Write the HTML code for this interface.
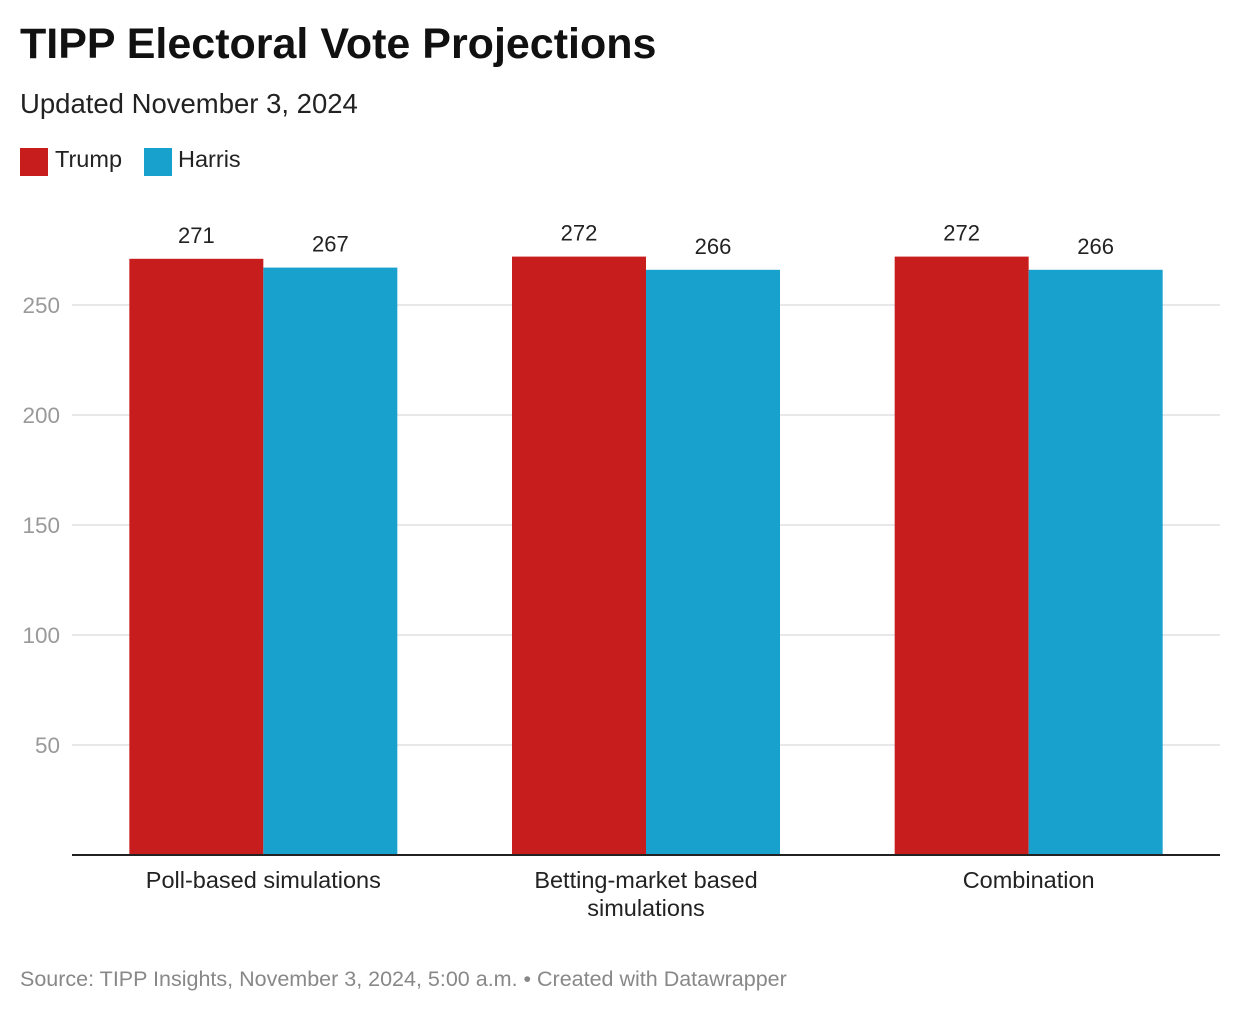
<!DOCTYPE html>
<html><head><meta charset="utf-8">
<style>
html,body{margin:0;padding:0;background:#fff;}
body{width:1240px;height:1016px;overflow:hidden;font-family:"Liberation Sans",Arial,sans-serif;position:relative;}
.t{position:absolute;white-space:nowrap;}
</style></head>
<body>
<div class="t" style="left:20px;top:20px;font-size:43px;font-weight:bold;color:#111;">TIPP Electoral Vote Projections</div>
<div class="t" style="left:20px;top:88px;font-size:27.5px;color:#222;">Updated November 3, 2024</div>
<div style="position:absolute;left:20px;top:146px;height:30px;">
  <div style="position:absolute;left:0;top:2px;width:28px;height:28px;background:#c71e1d;"></div>
  <div class="t" style="left:35px;top:0;font-size:23.5px;color:#222;">Trump</div>
  <div style="position:absolute;left:124px;top:2px;width:28px;height:28px;background:#18a1cd;"></div>
  <div class="t" style="left:158px;top:0;font-size:23.5px;color:#222;">Harris</div>
</div>
<svg id="chart" width="1240" height="1016" style="position:absolute;left:0;top:0;" font-family="Liberation Sans, Arial, sans-serif"></svg>
<div class="t" style="left:20px;top:967px;font-size:21.5px;color:#888;">Source: TIPP Insights, November 3, 2024, 5:00 a.m. • Created with Datawrapper</div>
<script>
const categories = [["Poll-based simulations"],["Betting-market based","simulations"],["Combination"]];
const trump = [271, 272, 272];
const harris = [267, 266, 266];
const ticks = [50, 100, 150, 200, 250];
const NS="http://www.w3.org/2000/svg";
const svg=document.getElementById('chart');
const x0=72,x1=1220,y0=855,pxPer=2.2;
const y=v=>y0-v*pxPer;
const band=(x1-x0)/categories.length;
const bw=134;
function mk(tag,attrs,parent){const e=document.createElementNS(NS,tag);for(const k in attrs)e.setAttribute(k,attrs[k]);(parent||svg).appendChild(e);return e;}
ticks.forEach(t=>{
  const g=mk('line',{x1:x0,x2:x1,y1:y(t),y2:y(t),stroke:'#e0e0e0','stroke-width':1.5});
  
  
  const l=mk('text',{x:60,y:y(t)+8,'text-anchor':'end','font-size':22.5,fill:'#999'});
  l.textContent=t;
  
  
});
categories.forEach((c,i)=>{
  const cx=x0+band*(i+0.5);
  [[trump[i],'#c71e1d',cx-bw,'trump'],[harris[i],'#18a1cd',cx,'harris']].forEach(([v,col,bx,n])=>{
    const r=mk('rect',{x:bx,y:y(v),width:bw,height:y0-y(v),fill:col});
    
    
    const t=mk('text',{x:bx+bw/2,y:y(v)-16,'text-anchor':'middle','font-size':22,fill:'#222'});
    t.textContent=v;
    
    
  });
  c.forEach((line,j)=>{
    const t=mk('text',{x:cx,y:888+j*28,'text-anchor':'middle','font-size':23.5,fill:'#222'});
    t.textContent=line;
    
    
  });
});
const ax=mk('line',{x1:x0,x2:x1,y1:y0,y2:y0,stroke:'#222','stroke-width':2});


</script>
</body></html>
